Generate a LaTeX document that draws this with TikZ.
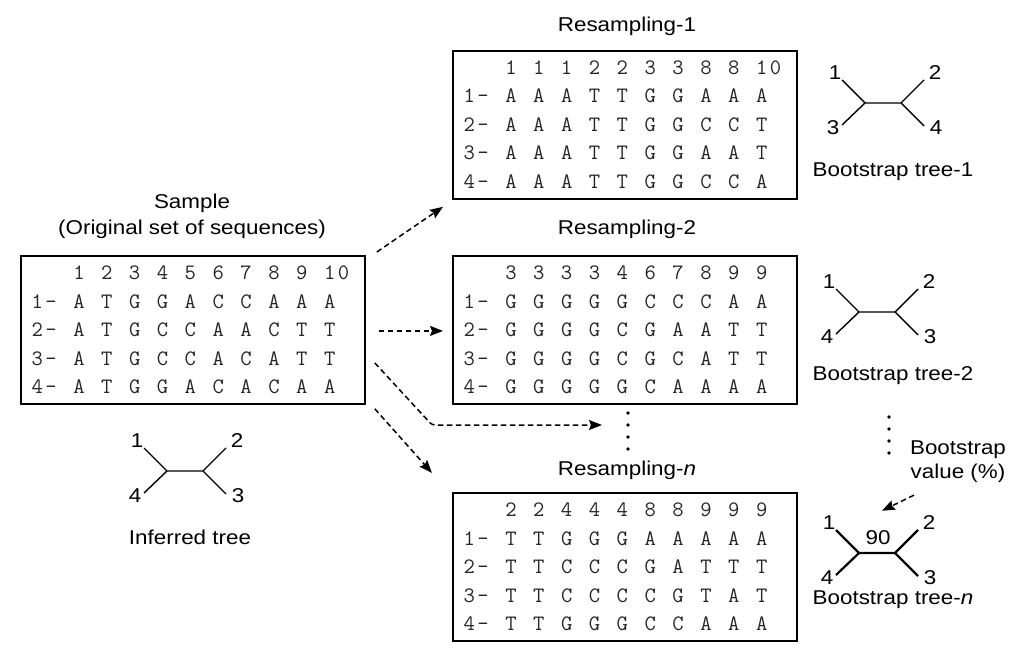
\documentclass[tikz,border=0pt]{standalone}
\usepackage{fontspec}
\setmainfont[FakeStretch=1.12]{Liberation Sans}
\usetikzlibrary{arrows.meta}
% monospaced row: each token in a fixed-width box, '.' is a blank column
\newcommand\sqrow[1]{\sqloop#1\relax}
\def\sqloop#1{\ifx#1\relax\else\ifx#1.\makebox[13.93pt]{}\else\makebox[13.93pt]{#1}\fi\expandafter\sqloop\fi}
\newcommand\seqpanel[7]{%
  \node[seqbox] (#1) at (#2,#3) {};
  \node[seqline] (#1r0) at ([shift={(10,24.5)}]#1.north west) {\sqrow{...#4}};
  \node[seqline] (#1r1) at ([shift={(10,53)}]#1.north west) {\sqrow{1-.#5}};
  \node[seqline] (#1r2) at ([shift={(10,81.5)}]#1.north west) {\sqrow{2-.#6}};
  \node[seqline] (#1r3) at ([shift={(10,110)}]#1.north west) {\sqrow{3-.#7}};
}
\newcommand\seqlast[2]{%
  \node[seqline] (#1r4) at ([shift={(10,138.5)}]#1.north west) {\sqrow{4-.#2}};
}
% tree: name, x, y (left junction), TL, BL, TR, BR, style
\newcommand\utree[8]{%
  \coordinate (#1a) at (#2,#3);
  \coordinate (#1b) at ([shift={(36,0)}]#1a);
  \coordinate (#1tl) at ([shift={(-23,-23)}]#1a);
  \coordinate (#1bl) at ([shift={(-23,22)}]#1a);
  \coordinate (#1tr) at ([shift={(23,-23)}]#1b);
  \coordinate (#1br) at ([shift={(23,23)}]#1b);
  \draw[#8] (#1tl) -- (#1a) -- (#1b) -- (#1tr);
  \draw[#8] (#1bl) -- (#1a);
  \draw[#8] (#1br) -- (#1b);
  \node[lbl] (#1n1) at ([shift={(-30,-30)}]#1a) {#4};
  \node[lbl] (#1n2) at ([shift={(-32,25)}]#1a) {#5};
  \node[lbl] (#1n3) at ([shift={(34,-30)}]#1b) {#6};
  \node[lbl] (#1n4) at ([shift={(35,25)}]#1b) {#7};
}
\begin{document}
\begin{tikzpicture}[x=1pt,y=-1pt,
  lbl/.style={font=\fontsize{20}{22}\selectfont, inner sep=0pt},
  title/.style={font=\fontsize{20}{22}\selectfont, inner sep=0pt, anchor=base},
  seqbox/.style={draw, line width=1.8pt, minimum width=344pt, minimum height=148pt, inner sep=0pt, anchor=north west},
  seqline/.style={font=\ttfamily\fontsize{22}{24}\selectfont, text=black!85, inner sep=0pt, anchor=base west},
  branch/.style={line width=1.4pt},
  thickbranch/.style={line width=2.2pt},
  darr/.style={line width=1.5pt, dash pattern=on 5.5pt off 3.5pt, -{Stealth[length=13pt,width=10pt,inset=2pt]}},
  dotmark/.style={fill, circle, inner sep=0pt, minimum size=3.6pt}]
\useasboundingbox (0,0) rectangle (1020,655);

% sample
\node[title] (samplet) at (192,209) {Sample};
\node[title] (samplet2) at (192,234) {(Original set of sequences)};
\seqpanel{s}{20}{255}{1.2.3.4.5.6.7.8.9.10}{A.T.G.G.A.C.C.A.A.A}{A.T.G.C.C.A.A.C.T.T}{A.T.G.C.C.A.C.A.T.T}
\seqlast{s}{A.T.G.G.A.C.A.C.A.A}

% resampling 1
\node[title] (r1t) at (627,32) {Resampling-1};
\seqpanel{ra}{452}{50}{1.1.1.2.2.3.3.8.8.10}{A.A.A.T.T.G.G.A.A.A}{A.A.A.T.T.G.G.C.C.T}{A.A.A.T.T.G.G.A.A.T}
\seqlast{ra}{A.A.A.T.T.G.G.C.C.A}

% resampling 2
\node[title] (r2t) at (627,235) {Resampling-2};
\seqpanel{rb}{452}{255}{3.3.3.3.4.6.7.8.9.9}{G.G.G.G.G.C.C.C.A.A}{G.G.G.G.C.G.A.A.T.T}{G.G.G.G.C.G.C.A.T.T}
\seqlast{rb}{G.G.G.G.G.C.A.A.A.A}

% resampling n
\node[title] (rnt) at (627,475) {Resampling-\textit{n}};
\seqpanel{rn}{452}{492}{2.2.4.4.4.8.8.9.9.9}{T.T.G.G.G.A.A.A.A.A}{T.T.C.C.C.G.A.T.T.T}{T.T.C.C.C.C.G.T.A.T}
\seqlast{rn}{T.T.G.G.G.C.C.A.A.A}

% dots
\node[dotmark] (ld1) at (628,413) {};
\node[dotmark] (ld2) at (628,425) {};
\node[dotmark] (ld3) at (628,437) {};
\node[dotmark] (ld4) at (628,449) {};
\node[dotmark] (rd1) at (889,417) {};
\node[dotmark] (rd2) at (889,429) {};
\node[dotmark] (rd3) at (889,441) {};
\node[dotmark] (rd4) at (889,453) {};

% trees
\utree{ti}{167}{471}{1}{4}{2}{3}{branch}
\node[title] (tit) at (190,544) {Inferred tree};
\utree{ta}{865}{103}{1}{3}{2}{4}{branch}
\node[title] (tat) at (893,177) {Bootstrap tree-1};
\utree{tb}{859}{312}{1}{4}{2}{3}{branch}
\node[title] (tbt) at (893,380) {Bootstrap tree-2};
\utree{tn}{859}{553}{1}{4}{2}{3}{thickbranch}
\node[lbl] (ninety) at (878,538) {90};
\node[title] (tnt) at (893,604) {Bootstrap tree-\textit{n}};
\node[lbl, align=center] (bval) at (958,462) {Bootstrap\\[2pt]value (\%)};

% arrows
\coordinate (a1s) at ([shift={(11,-3)}]s.north east);
\coordinate (a1e) at ([shift={(-9,7)}]ra.south west);
\draw[darr] (a1s) -- (a1e);
\coordinate (a2s) at ([shift={(13,1)}]s.east);
\coordinate (a2e) at ([shift={(-9,1)}]rb.west);
\draw[darr] (a2s) -- (a2e);
\coordinate (a3s) at ([shift={(9,33)}]s.east);
\coordinate (a3c) at (432,425);
\coordinate (a3e) at ([shift={(-26,0)}]ld2);
\draw[darr, rounded corners=3pt] (a3s) -- (a3c) -- (a3e);
\coordinate (a4s) at ([shift={(9,4)}]s.south east);
\coordinate (a4e) at ([shift={(-20,-19)}]rn.north west);
\draw[darr] (a4s) -- (a4e);
\coordinate (a5s) at ([shift={(-44,12)}]bval.south);
\coordinate (a5e) at ([shift={(4,-20)}]ninety.north);
\draw[darr] (a5s) -- (a5e);
\end{tikzpicture}
\end{document}
